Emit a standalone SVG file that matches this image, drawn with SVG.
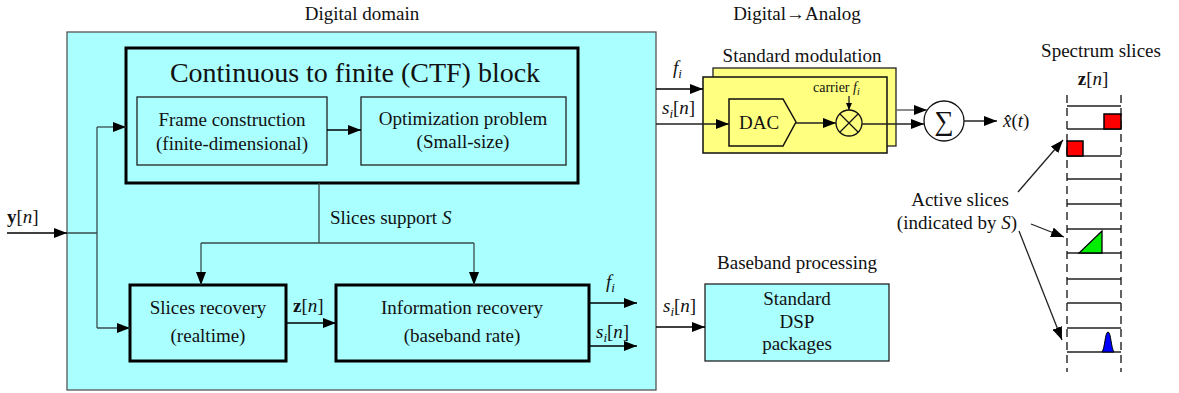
<svg xmlns="http://www.w3.org/2000/svg" width="1179" height="393" viewBox="0 0 1179 393" font-family="Liberation Serif, serif">
<style>
text{font-family:'Liberation Serif','DejaVu Serif',serif;fill:#111;font-size:19px}
.c{text-anchor:middle}
.it{font-style:italic}
.bf{font-weight:bold}
.sub{font-size:13px;font-style:italic}
.cy{fill:#aaffff}
.ln{fill:none;stroke:#3c4c4c;stroke-width:1.3}
.lk{fill:none;stroke:#000;stroke-width:1.5}
.sl{fill:none;stroke:#222;stroke-width:1.3}
.sg{fill:none;stroke:#666;stroke-width:1.5}
</style>
<defs>
<marker id="ah" markerUnits="userSpaceOnUse" markerWidth="14" markerHeight="10" refX="13" refY="5" orient="auto">
<path d="M0,0 L13,5 L0,10 Z" fill="#000"/>
</marker>
<marker id="as" markerUnits="userSpaceOnUse" markerWidth="8" markerHeight="6" refX="7" refY="3" orient="auto">
<path d="M0,0 L7,3 L0,6 Z" fill="#000"/>
</marker>
</defs>

<text class="c" x="362" y="20">Digital domain</text>
<text class="c" x="797" y="20">Digital→Analog</text>

<g id="digital-domain">
<rect x="67" y="32" width="589" height="358" class="cy" stroke="#555" stroke-width="1.3"/>
</g>

<g id="ctf-block">
<rect x="126" y="48" width="452" height="135" class="cy" stroke="#000" stroke-width="3"/>
<text class="c" x="355" y="82" style="font-size:28px">Continuous to finite (CTF) block</text>
</g>
<g id="frame-construction">
<rect x="137" y="97" width="190" height="68" class="cy" stroke="#222" stroke-width="1.3"/>
<text class="c" x="232" y="126">Frame construction</text>
<text class="c" x="232" y="150">(finite-dimensional)</text>
</g>
<g id="optimization">
<rect x="361" y="97" width="205" height="68" class="cy" stroke="#222" stroke-width="1.3"/>
<text class="c" x="463" y="125">Optimization problem</text>
<text class="c" x="463" y="148">(Small-size)</text>
</g>
<g id="slices-recovery">
<rect x="130" y="285" width="156" height="76" class="cy" stroke="#000" stroke-width="3"/>
<text class="c" x="208" y="314">Slices recovery</text>
<text class="c" x="208" y="342">(realtime)</text>
</g>
<g id="information-recovery">
<rect x="336" y="285" width="253" height="76" class="cy" stroke="#000" stroke-width="3"/>
<text class="c" x="462" y="314">Information recovery</text>
<text class="c" x="462" y="342">(baseband rate)</text>
</g>

<g id="dsp">
<text class="c" x="797" y="269">Baseband processing</text>
<rect x="705" y="284" width="184" height="77" class="cy" stroke="#222" stroke-width="1.3"/>
<text class="c" x="797" y="305">Standard</text>
<text class="c" x="797" y="328">DSP</text>
<text class="c" x="797" y="350">packages</text>
</g>

<g id="modulation">
<text class="c" x="802" y="62">Standard modulation</text>
<rect x="713" y="68" width="183" height="78" fill="#ffff80" stroke="#222" stroke-width="1.3"/>
<rect x="703" y="77" width="184" height="76" fill="#ffff80" stroke="#111" stroke-width="1.5"/>
</g>
<g id="dac">
<polygon points="729,99 783,99 796,122 783,146 729,146" fill="#ffff80" stroke="#111" stroke-width="1.5"/>
<text class="c" x="759" y="129">DAC</text>
</g>
<g id="mixer">
<circle cx="849" cy="123" r="13" fill="#ffff80" stroke="#111" stroke-width="1.3"/>
<path d="M840,114 L858,132 M858,114 L840,132" stroke="#111" stroke-width="1.2"/>
<text x="813" y="92" style="font-size:14px">carrier <tspan class="it">f</tspan><tspan style="font-size:10px" class="it" dy="3">i</tspan></text>
</g>
<g id="sum">
<circle cx="944" cy="121" r="20" fill="#fff" stroke="#111" stroke-width="1.3"/>
<text class="c" x="944" y="130" style="font-size:27px">∑</text>
</g>

<g id="spectrum">
<text class="c" x="1101" y="57">Spectrum slices</text>
<text class="c" x="1093" y="85"><tspan class="bf">z</tspan>[<tspan class="it">n</tspan>]</text>
<path d="M1067,95 V372 M1121,95 V372" stroke="#111" stroke-width="1.3" stroke-dasharray="8,5" fill="none"/>
<path d="M1067,106 H1121 M1067,129 H1121 M1067,156 H1121 M1067,179 H1121 M1067,204 H1121 M1067,229 H1121 M1067,253 H1121 M1067,279 H1121 M1067,303 H1121 M1067,328 H1121 M1067,352 H1121" stroke="#222" stroke-width="1.3" fill="none"/>
<rect x="1104" y="114" width="17" height="15" fill="#ff0000" stroke="#000" stroke-width="1.5"/>
<rect x="1067" y="141" width="16" height="15" fill="#ff0000" stroke="#000" stroke-width="1.5"/>
<polygon points="1079,253 1102,253 1102,231" fill="#00ee00" stroke="#000" stroke-width="1.3"/>
<path d="M1102,352 C1105,348 1105,332 1108,332 C1111,332 1111,348 1114,352 Z" fill="#0000ff" stroke="#000" stroke-width="1"/>
</g>
<g id="active-slices">
<text class="c" x="960" y="206">Active slices</text>
<text class="c" x="957" y="229">(indicated by <tspan class="it">S</tspan>)</text>
</g>

<g id="connectors">
<path class="lk" d="M7,233 H67" marker-end="url(#ah)"/>
<text x="7" y="223"><tspan class="bf">y</tspan>[<tspan class="it">n</tspan>]</text>
<path class="ln" d="M67,233 H97 M97,127 V328"/>
<path class="ln" d="M97,127 H126" marker-end="url(#ah)"/>
<path class="ln" d="M97,328 H130" marker-end="url(#ah)"/>
<path class="lk" d="M327,130 H361" marker-end="url(#ah)"/>
<path class="ln" d="M319,183 V243 M201,243 H474"/>
<path class="ln" d="M201,243 V285" marker-end="url(#ah)"/>
<path class="ln" d="M474,243 V285" marker-end="url(#ah)"/>
<text x="330" y="224">Slices support <tspan class="it">S</tspan></text>
<path class="lk" d="M286,323 H336" marker-end="url(#ah)"/>
<text x="293" y="312"><tspan class="bf">z</tspan>[<tspan class="it">n</tspan>]</text>
<path class="lk" d="M589,303 H637" marker-end="url(#ah)"/>
<text x="606" y="288" class="it">f<tspan class="sub" dy="4">i</tspan></text>
<path class="lk" d="M589,346 H637" marker-end="url(#ah)"/>
<text x="596" y="338"><tspan class="it">s</tspan><tspan class="sub" dy="4">i</tspan><tspan dy="-4">[</tspan><tspan class="it">n</tspan>]</text>
<path class="lk" d="M656,327 H705" marker-end="url(#ah)"/>
<text x="663" y="312"><tspan class="it">s</tspan><tspan class="sub" dy="4">i</tspan><tspan dy="-4">[</tspan><tspan class="it">n</tspan>]</text>
<path class="lk" d="M656,89 H703" marker-end="url(#ah)"/>
<text x="673" y="74" class="it">f<tspan class="sub" dy="4">i</tspan></text>
<path class="sl" d="M656,124 H729" marker-end="url(#ah)"/>
<text x="662" y="114"><tspan class="it">s</tspan><tspan class="sub" dy="4">i</tspan><tspan dy="-4">[</tspan><tspan class="it">n</tspan>]</text>
<path class="sl" d="M796,123 H836" marker-end="url(#ah)"/>
<path class="sl" d="M849,96 V110" marker-end="url(#as)"/>
<path class="sl" d="M862,124 H924" marker-end="url(#ah)"/>
<path class="sg" d="M896,110 H927" marker-end="url(#ah)"/>
<path class="sl" d="M964,121 H997" marker-end="url(#ah)"/>
<text x="1003" y="127"><tspan class="it">x̂</tspan>(<tspan class="it">t</tspan>)</text>
<path class="sl" d="M1018,192 L1063,140" marker-end="url(#ah)"/>
<path class="sl" d="M1031,224 L1064,237" marker-end="url(#ah)"/>
<path class="sl" d="M1019,231 L1062,340" marker-end="url(#ah)"/>
</g>
</svg>
